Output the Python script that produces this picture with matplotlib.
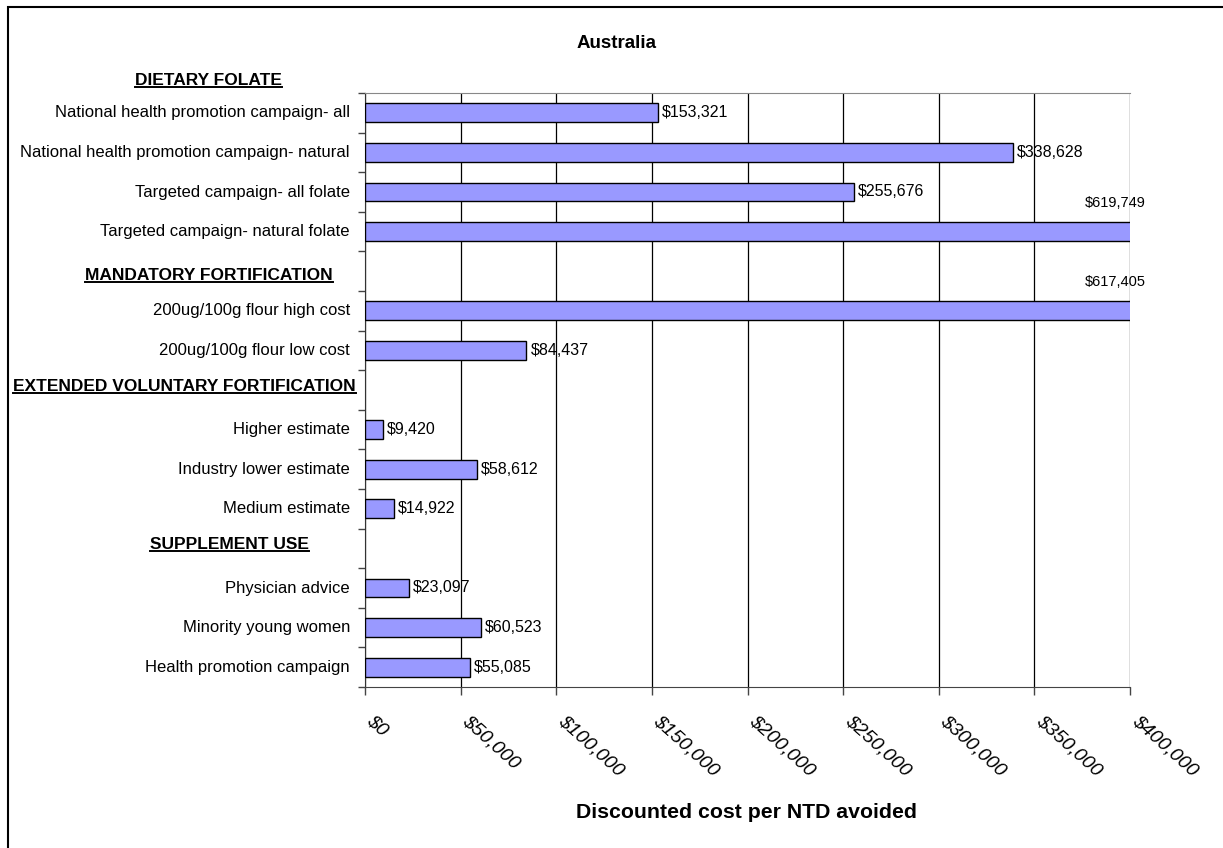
import matplotlib
matplotlib.use("Agg")
import matplotlib.pyplot as plt
from matplotlib.lines import Line2D
from matplotlib.patches import Rectangle
import matplotlib.transforms as mtransforms
from matplotlib.ticker import FuncFormatter, MultipleLocator

plt.rcParams['font.family'] = ['Liberation Sans', 'DejaVu Sans']

# rows from top to bottom; None marks a section header row
categories = [
    "National health promotion campaign- all",
    "National health promotion campaign- natural",
    "Targeted campaign- all folate",
    "Targeted campaign- natural folate",
    None,
    "200ug/100g flour high cost",
    "200ug/100g flour low cost",
    None,
    "Higher estimate",
    "Industry lower estimate",
    "Medium estimate",
    None,
    "Physician advice",
    "Minority young women",
    "Health promotion campaign",
]
costs = [153321, 338628, 255676, 619749, None, 617405, 84437, None,
         9420, 58612, 14922, None, 23097, 60523, 55085]
sections = ["DIETARY FOLATE", "MANDATORY FORTIFICATION",
            "EXTENDED VOLUNTARY FORTIFICATION", "SUPPLEMENT USE"]
section_y = [-0.82, 4.12, 6.9, 10.9]
section_left_px = [135, 85, 13, 150]
x_max = 400000

W, H = 1223, 848
fig = plt.figure(figsize=(W / 100, H / 100), dpi=100)
ax = fig.add_axes([365 / W, 1 - 687 / H, (1130 - 365) / W, (687 - 93) / H])

rows = [i for i, c in enumerate(costs) if c is not None]
vals = [costs[i] for i in rows]
ax.barh(rows, vals, height=0.47, color='#9999FF', edgecolor='black',
        linewidth=1.0, zorder=3)

ax.set_xlim(0, x_max)
ax.set_ylim(len(categories) - 0.5, -0.5)

for r, v in zip(rows, vals):
    lab = "${:,}".format(v)
    if v > x_max:
        ax.annotate(lab, xy=(x_max, r - 0.5), xytext=(-45, 2),
                    textcoords='offset pixels', ha='left', va='bottom',
                    fontsize=10.5, clip_on=False)
    else:
        ax.annotate(lab, xy=(v, r), xytext=(4, 0), textcoords='offset pixels',
                    ha='left', va='center', fontsize=11.5)

# category labels
ax.set_yticks([i - 0.5 for i in range(len(categories) + 1)])
ax.set_yticklabels([])
ax.tick_params(axis='y', direction='out', length=5, width=1, color='#444444')
for i, c in enumerate(categories):
    if c is not None:
        ax.annotate(c, xy=(0, i), xycoords=('axes fraction', 'data'),
                    xytext=(-15, 0), textcoords='offset pixels',
                    ha='right', va='center', fontsize=12)

# x axis
ax.xaxis.set_major_locator(MultipleLocator(50000))
ax.xaxis.set_major_formatter(FuncFormatter(lambda x, p: "${:,.0f}".format(x)))
ax.tick_params(axis='x', direction='out', length=6, width=1, color='#444444', pad=12)
shift = mtransforms.ScaledTranslation(10 / 100, 0, fig.dpi_scale_trans)
for lab in ax.get_xticklabels():
    lab.set_rotation(-42)
    lab.set_ha('left')
    lab.set_va('top')
    lab.set_rotation_mode('anchor')
    lab.set_fontsize(14)
    lab.set_fontstyle('italic')
    lab.set_transform(lab.get_transform() + shift)
ax.grid(axis='x', color='black', linewidth=0.9, zorder=0)

ax.spines['right'].set_visible(False)
ax.spines['top'].set_color('#888888')
ax.spines['left'].set_color('#333333')
ax.spines['bottom'].set_color('#444444')

fig.text(617 / W, 1 - 43 / H, "Australia", ha='center', va='center',
         fontsize=13.5, fontweight='bold')
fig.text(747 / W, 1 - 812 / H, "Discounted cost per NTD avoided", ha='center',
         va='center', fontsize=15.3, fontweight='bold')

# section headers, underlined
trans = mtransforms.blended_transform_factory(fig.transFigure, ax.transData)
heads = []
for s, y, xp in zip(sections, section_y, section_left_px):
    heads.append(ax.text(xp / W, y, s, transform=trans, ha='left',
                         va='center', fontsize=12.5, fontweight='bold',
                         clip_on=False))

fig.canvas.draw()
inv = fig.transFigure.inverted()
for t in heads:
    bb = t.get_window_extent()
    (x0, y0), (x1, _) = inv.transform([(bb.x0, bb.y0 + 1), (bb.x1, bb.y0 + 1)])
    fig.add_artist(Line2D([x0, x1], [y0, y0], transform=fig.transFigure,
                          color='black', linewidth=1.4))

# chart border (only top and left visible in the original crop)
fig.add_artist(Rectangle((8 / W, -0.05), 1.2, 1 - 7 / H + 0.05,
                         transform=fig.transFigure, fill=False,
                         edgecolor='black', linewidth=1.5))

fig.savefig("out.png", dpi=100)
